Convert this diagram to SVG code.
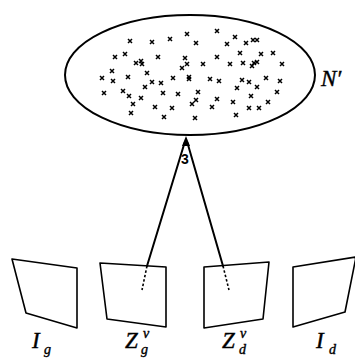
<svg xmlns="http://www.w3.org/2000/svg" width="355" height="358" viewBox="0 0 355 358">
<defs>
<style>
.ln{stroke:#000;stroke-width:2;fill:none;stroke-linecap:round}
.dash{stroke:#000;stroke-width:1.6;fill:none;stroke-dasharray:2.5 2}
.quad{stroke:#000;stroke-width:1.6;fill:#fff;stroke-linejoin:round}
.lbl{font-family:"Liberation Serif","DejaVu Serif",serif;font-style:italic;font-size:23px;fill:#000;stroke:#000;stroke-width:0.4}
.sub{font-size:14px}
.small{font-family:"Liberation Sans","DejaVu Sans",sans-serif;font-size:14px;font-weight:bold;fill:#000}
</style>
<g id="xm"><path d="M-2,-2 L2,2 M2,-2 L-2,2" stroke="#000" stroke-width="1.5"/></g>
</defs>
<rect width="355" height="358" fill="#fff"/>

<g id="Nprime">
<ellipse cx="190" cy="75" rx="125" ry="60" fill="none" stroke="#000" stroke-width="2"/>
<g id="points">
<use href="#xm" x="130" y="41"/><use href="#xm" x="152" y="42"/><use href="#xm" x="170" y="39"/><use href="#xm" x="187" y="34"/>
<use href="#xm" x="196" y="43"/><use href="#xm" x="217" y="31"/><use href="#xm" x="227" y="44"/><use href="#xm" x="235" y="37"/>
<use href="#xm" x="246" y="43"/><use href="#xm" x="253" y="40"/><use href="#xm" x="257" y="40"/>
<use href="#xm" x="115" y="57"/><use href="#xm" x="125" y="54"/><use href="#xm" x="136" y="63"/><use href="#xm" x="141" y="61"/>
<use href="#xm" x="142" y="64"/><use href="#xm" x="158" y="57"/><use href="#xm" x="185" y="58"/><use href="#xm" x="182" y="68"/>
<use href="#xm" x="187" y="64"/><use href="#xm" x="203" y="64"/><use href="#xm" x="217" y="57"/><use href="#xm" x="240" y="53"/>
<use href="#xm" x="230" y="64"/><use href="#xm" x="243" y="63"/><use href="#xm" x="252" y="66"/><use href="#xm" x="254" y="63"/>
<use href="#xm" x="257" y="62"/><use href="#xm" x="261" y="54"/><use href="#xm" x="273" y="53"/><use href="#xm" x="282" y="64"/>
<use href="#xm" x="102" y="78"/><use href="#xm" x="112" y="71"/><use href="#xm" x="113" y="81"/><use href="#xm" x="128" y="77"/>
<use href="#xm" x="147" y="73"/><use href="#xm" x="145" y="87"/><use href="#xm" x="152" y="82"/><use href="#xm" x="161" y="83"/>
<use href="#xm" x="173" y="78"/><use href="#xm" x="189" y="77"/><use href="#xm" x="189" y="79"/><use href="#xm" x="210" y="79"/><use href="#xm" x="219" y="81"/>
<use href="#xm" x="242" y="80"/><use href="#xm" x="249" y="82"/><use href="#xm" x="257" y="87"/><use href="#xm" x="266" y="78"/>
<use href="#xm" x="280" y="81"/><use href="#xm" x="237" y="88"/>
<use href="#xm" x="104" y="93"/><use href="#xm" x="123" y="91"/><use href="#xm" x="129" y="96"/><use href="#xm" x="141" y="98"/>
<use href="#xm" x="133" y="104"/><use href="#xm" x="163" y="93"/><use href="#xm" x="178" y="94"/><use href="#xm" x="198" y="92"/>
<use href="#xm" x="192" y="104"/><use href="#xm" x="196" y="100"/><use href="#xm" x="217" y="99"/><use href="#xm" x="233" y="102"/>
<use href="#xm" x="251" y="96"/><use href="#xm" x="277" y="92"/>
<use href="#xm" x="155" y="107"/><use href="#xm" x="172" y="108"/><use href="#xm" x="212" y="107"/><use href="#xm" x="249" y="108"/>
<use href="#xm" x="259" y="108"/><use href="#xm" x="268" y="102"/><use href="#xm" x="131" y="113"/><use href="#xm" x="164" y="117"/>
<use href="#xm" x="195" y="118"/><use href="#xm" x="236" y="115"/>
</g>
<text class="lbl" x="321" y="86">N′</text>
</g>

<g id="Ig">
<polygon class="quad" points="12,259 77,268 77,328 26,313"/>
<text class="lbl" x="32" y="348">I<tspan class="sub" x="44" y="354">g</tspan></text>
</g>
<g id="Zgv">
<polygon class="quad" points="100,263 166,267 166,327 107,319"/>
<text class="lbl" x="125" y="348">Z<tspan class="sub" x="143" y="338">v</tspan><tspan class="sub" x="141" y="354">g</tspan></text>
</g>
<g id="Zdv">
<polygon class="quad" points="204,267 269,262 263,319 204,328"/>
<text class="lbl" x="222" y="348">Z<tspan class="sub" x="240" y="338">v</tspan><tspan class="sub" x="239" y="354">d</tspan></text>
</g>
<g id="Id">
<polygon class="quad" points="293,267 356,257 345,312 293,327"/>
<text class="lbl" x="316" y="348">I<tspan class="sub" x="329" y="354">d</tspan></text>
</g>

<g id="connectors">
<line class="ln" x1="147" y1="266" x2="184.5" y2="143"/>
<line class="ln" x1="223" y1="266" x2="187.5" y2="143"/>
<path d="M186,136 L182,146 L190,146 z" fill="#000"/>
<line class="dash" x1="147" y1="266" x2="142" y2="290"/>
<line class="dash" x1="223" y1="266" x2="229" y2="290"/>
<text class="small" x="181" y="164">3</text>
</g>
</svg>
